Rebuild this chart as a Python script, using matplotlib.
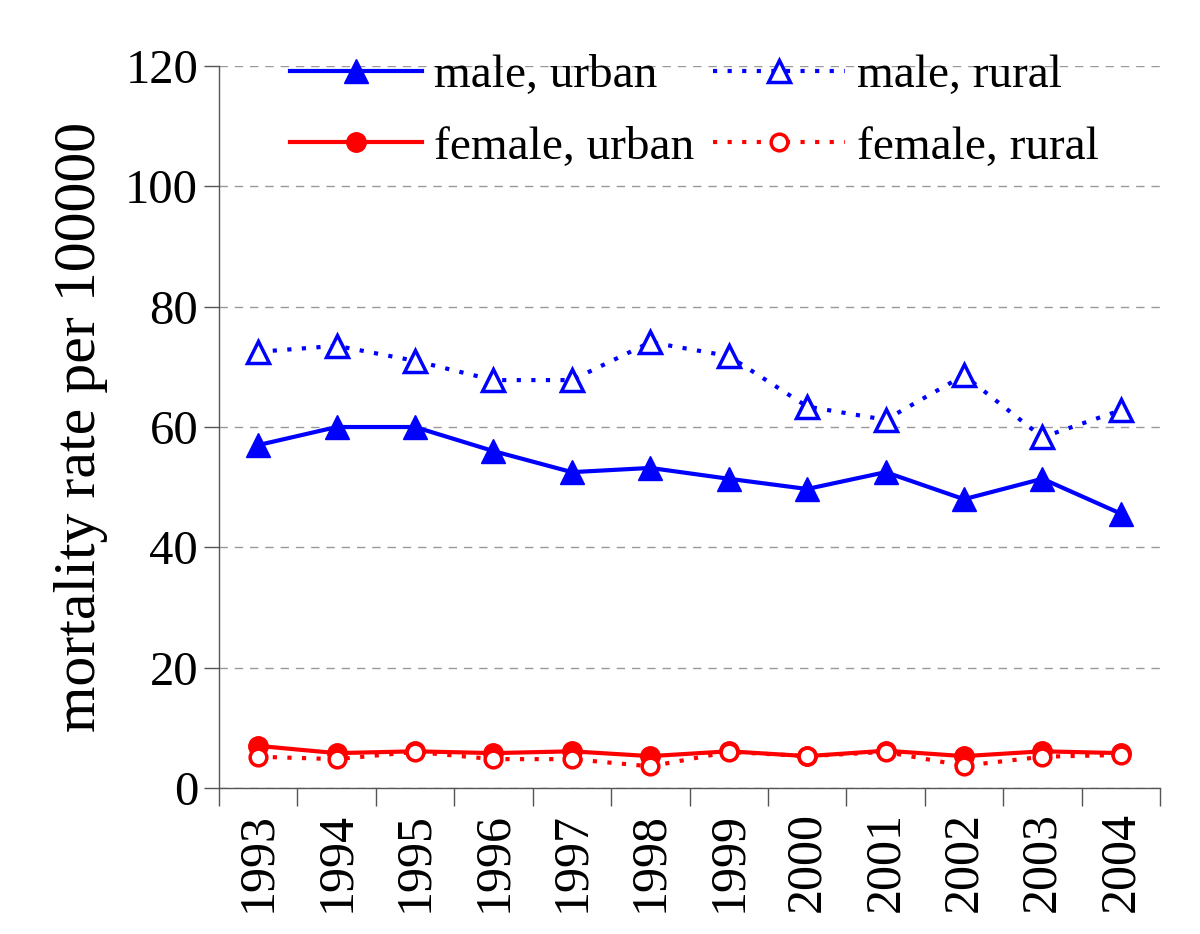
import matplotlib
import matplotlib.pyplot as plt
import numpy as np

matplotlib.use("Agg")

years = ["1993", "1994", "1995", "1996", "1997", "1998",
         "1999", "2000", "2001", "2002", "2003", "2004"]
male_urban = [57.0, 60.0, 60.0, 56.0, 52.5, 53.2, 51.4, 49.7, 52.5, 48.0, 51.4, 45.6]
male_rural = [72.5, 73.5, 71.0, 67.8, 67.8, 74.1, 71.8, 63.4, 61.2, 68.6, 58.3, 62.8]
female_urban = [7.0, 5.8, 6.1, 5.8, 6.1, 5.3, 6.1, 5.3, 6.2, 5.3, 6.1, 5.8]
female_rural = [5.2, 4.8, 6.0, 4.8, 4.8, 3.6, 6.0, 5.3, 6.0, 3.7, 5.2, 5.5]

plt.rcParams["font.family"] = ["Liberation Serif", "DejaVu Serif"]

fig = plt.figure(figsize=(12, 9.34), dpi=100)
ax = fig.add_axes([0.1825, 0.1563, 0.7842, 0.773])

x = np.arange(len(years))
mu, = ax.plot(x, male_urban, color="#0000ff", lw=3, marker="^", ms=17,
              label="male, urban")
mr, = ax.plot(x, male_rural, color="#0000ff", lw=3, ls=(0, (1, 2.5)), marker="^",
              ms=16, mfc="white", mew=2.5, label="male, rural")
fu, = ax.plot(x, female_urban, color="#ff0000", lw=3, marker="o", ms=14,
              label="female, urban")
fr, = ax.plot(x, female_rural, color="#ff0000", lw=3, ls=(0, (1, 2.5)), marker="o",
              ms=12, mfc="white", mew=2.5, label="female, rural")

ax.set_xlim(-0.5, len(years) - 0.5)
ax.set_ylim(0, 120)
ax.set_yticks(np.arange(0, 121, 20))
ax.set_xticks(x)
ax.set_xticklabels(years, rotation=90)
ax.set_xticks(np.arange(-0.5, len(years), 1), minor=True)
ax.tick_params(axis="x", which="major", length=0, labelsize=36, pad=17)
ax.tick_params(axis="x", which="minor", length=13, width=1, color="#555555")
ax.tick_params(axis="y", length=11, width=1, color="#555555", labelsize=35, pad=4)

ax.yaxis.grid(True, ls=(0, (6, 5)), color="#999999", lw=1)
for s in ["top", "right"]:
    ax.spines[s].set_visible(False)
for s in ["left", "bottom"]:
    ax.spines[s].set_color("#555555")
    ax.spines[s].set_linewidth(1)

ax.set_ylabel("mortality rate per 100000", fontsize=43, labelpad=12)

# row-wise order: male urban, male rural / female urban, female rural
ax.legend([mu, fu, mr, fr],
          ["male, urban", "female, urban", "male, rural", "female, rural"],
          ncol=2, frameon=False, fontsize=34, loc="upper left",
          bbox_to_anchor=(0.03, 1.075), handlelength=2.8, columnspacing=0.4,
          handletextpad=0.25, labelspacing=0.6)

fig.savefig("out.png", dpi=100)
